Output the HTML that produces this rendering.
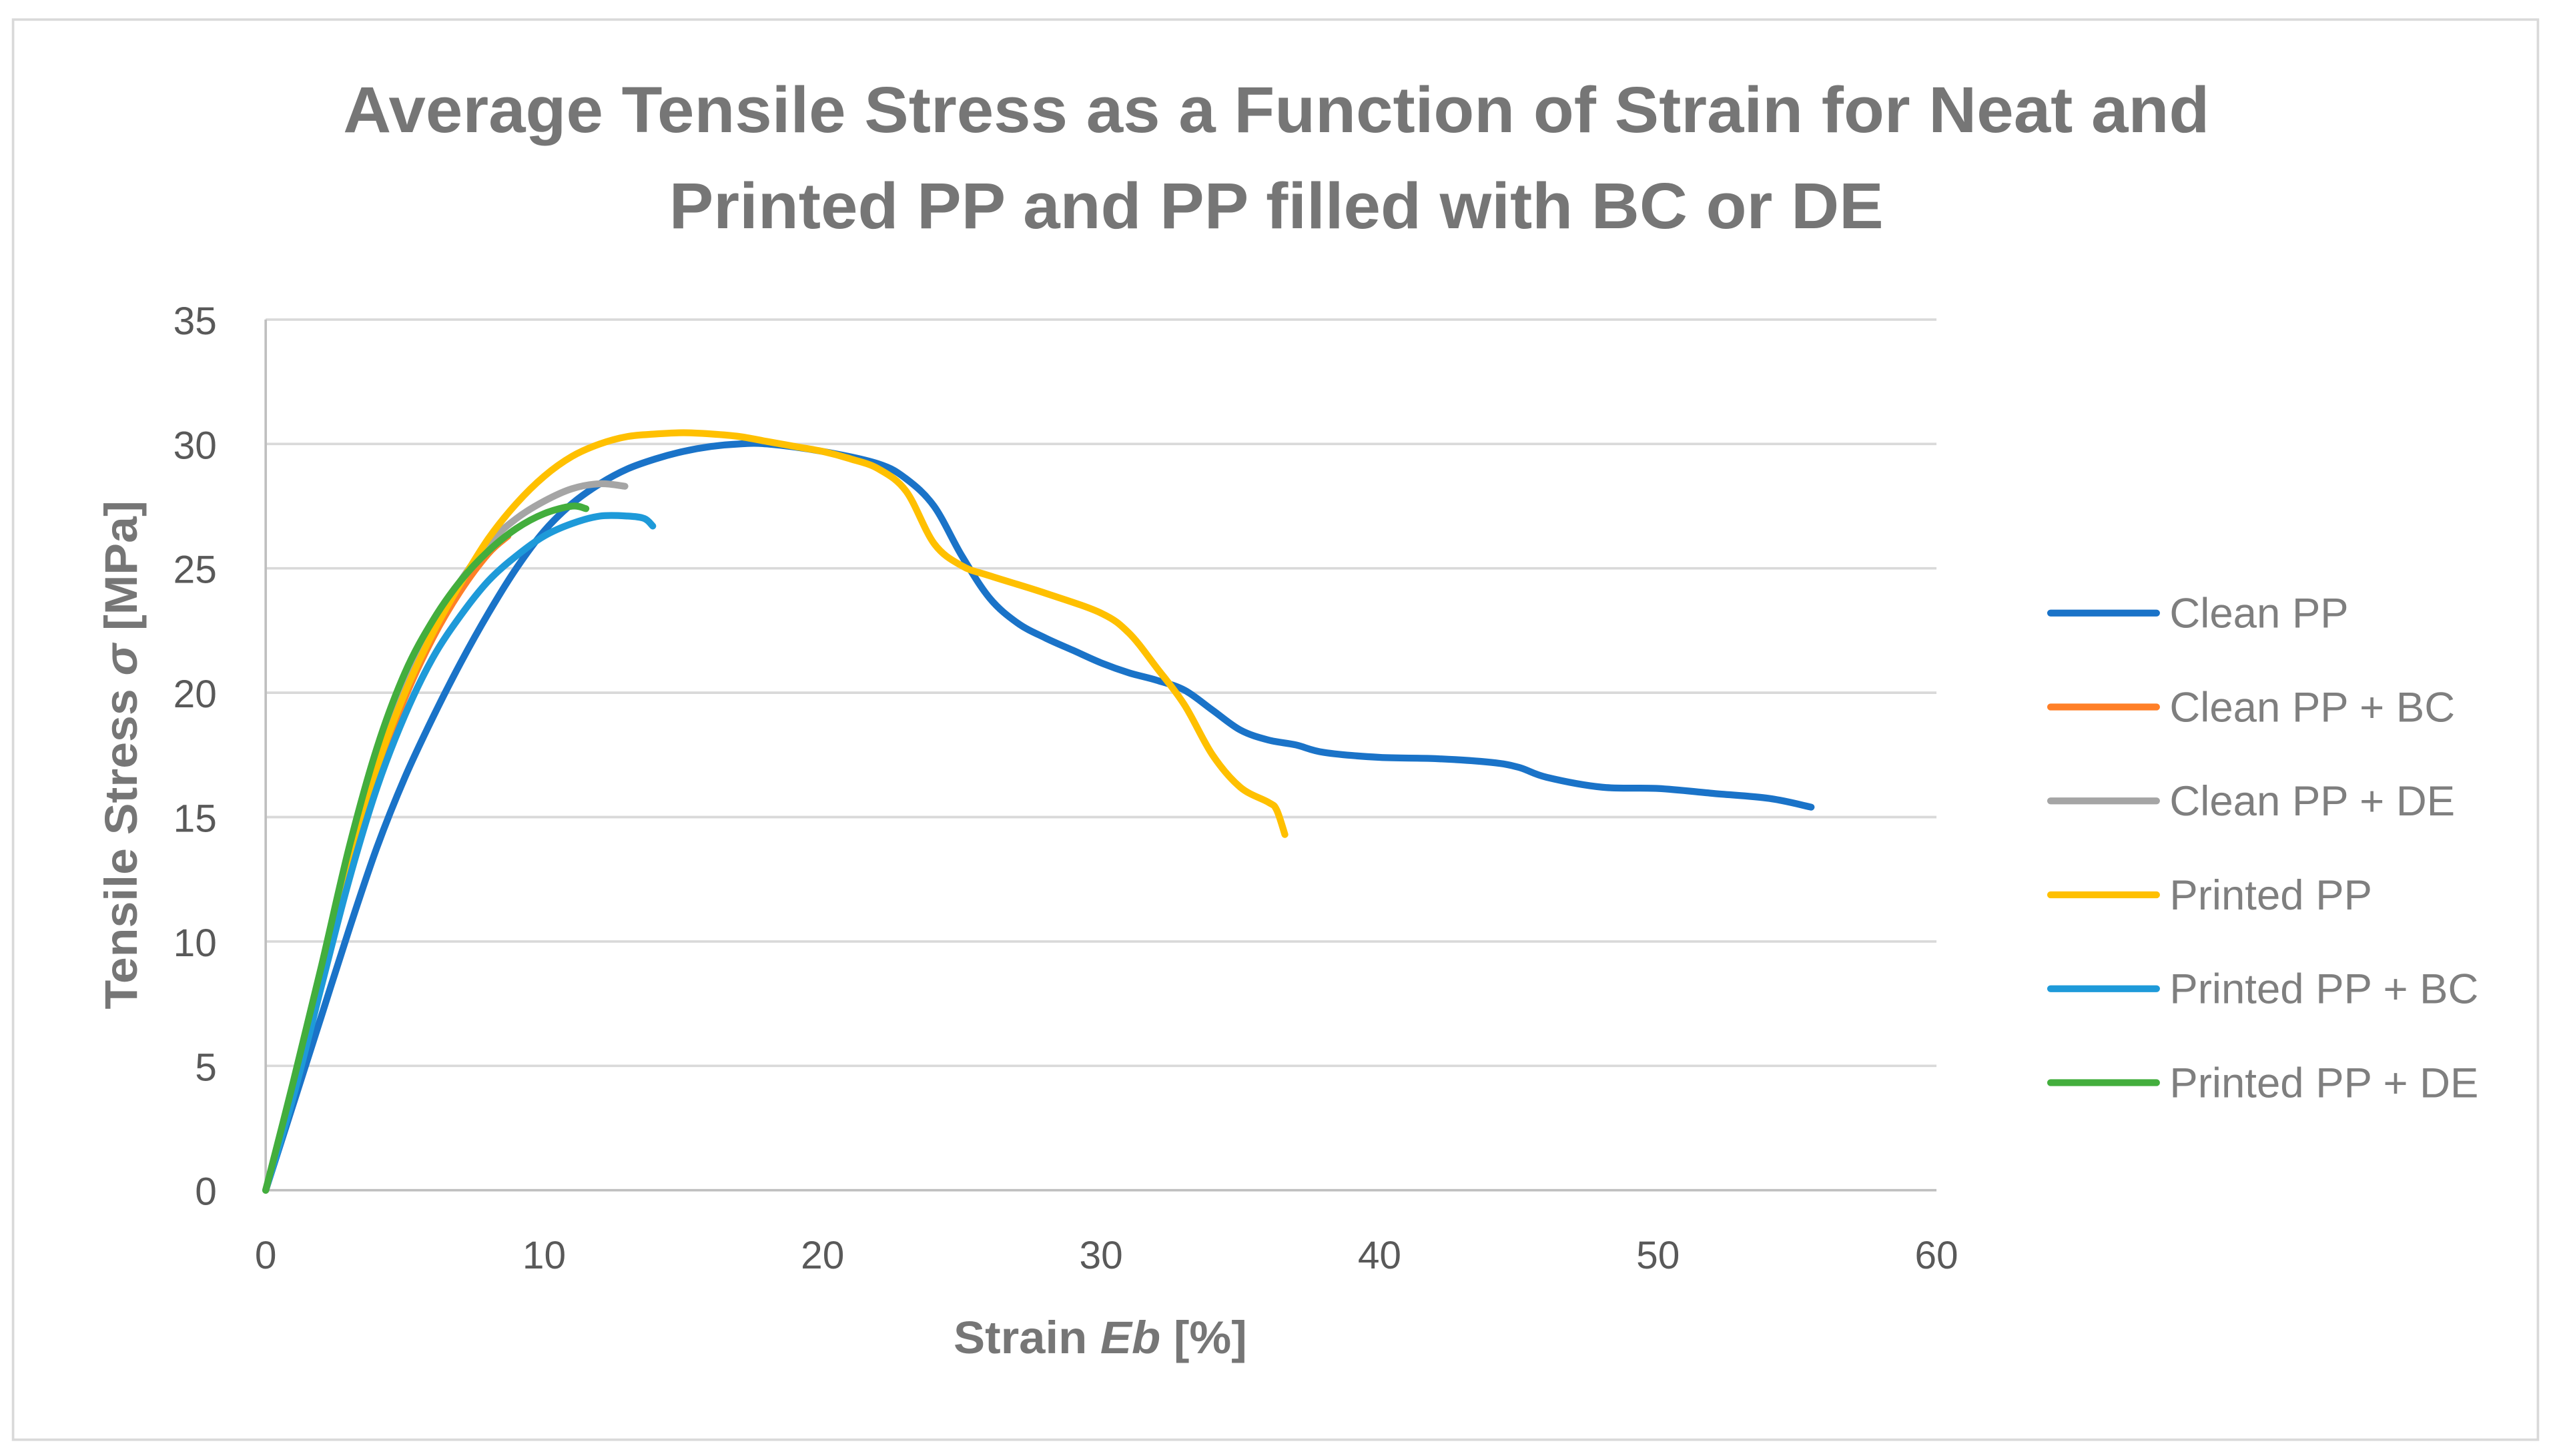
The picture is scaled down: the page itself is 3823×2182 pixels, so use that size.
<!DOCTYPE html>
<html><head><meta charset="utf-8"><style>
html,body{margin:0;padding:0;background:#fff;}
svg{display:block;font-family:"Liberation Sans",sans-serif;}
</style></head><body>
<svg id="chart" width="3823" height="2182" viewBox="0 0 1565 893" preserveAspectRatio="none" xmlns="http://www.w3.org/2000/svg">
<rect x="8" y="12" width="1549" height="871" fill="#fff" stroke="#d9d9d9" stroke-width="1.5"/>
<text x="783" y="81" text-anchor="middle" font-size="40" font-weight="bold" fill="#767676" textLength="1145" lengthAdjust="spacingAndGlyphs">Average Tensile Stress as a Function of Strain for Neat and</text>
<text x="783" y="140" text-anchor="middle" font-size="40" font-weight="bold" fill="#767676" textLength="745" lengthAdjust="spacingAndGlyphs">Printed PP and PP filled with BC or DE</text>
<g id="grid"></g>
<g id="axes"></g>
<g id="series"></g>
<text x="675" y="830" text-anchor="middle" font-size="28" font-weight="bold" fill="#767676" textLength="180" lengthAdjust="spacingAndGlyphs">Strain <tspan font-style="italic">Eb</tspan> [%]</text>
<text transform="translate(84,463) rotate(-90)" text-anchor="middle" font-size="28" font-weight="bold" fill="#767676" textLength="312" lengthAdjust="spacingAndGlyphs">Tensile Stress <tspan font-style="italic">σ</tspan> [MPa]</text>
<g id="legend"></g>
</svg>
<script>
const xTicks=[0,10,20,30,40,50,60];
const yTicks=[0,5,10,15,20,25,30,35];
const seriesNames=["Clean PP","Clean PP + BC","Clean PP + DE","Printed PP","Printed PP + BC","Printed PP + DE"];
const seriesColors=["#1A73C8","#FF7F27","#A5A5A5","#FFC000","#1E9AD9","#43AE3D"];
const cleanX=[0,1,2,3,4,5,6,7,8,9,10,11,12,13,14,15,16,17,18,20,22,23,24,25,26,27,28,29,30,31,32,33,34,35,36,37,38,40,42,44,45,46,48,50,52,54,55.5];
const cleanY=[0,3.5,7,10.5,13.8,16.6,19,21.2,23.2,25,26.5,27.6,28.4,29,29.4,29.7,29.9,30,30,29.7,29.2,28.6,27.5,25.5,23.8,22.8,22.2,21.7,21.2,20.8,20.5,20.1,19.3,18.5,18.1,17.9,17.6,17.4,17.35,17.2,17,16.6,16.2,16.15,15.95,15.75,15.4];
const cleanBcX=[0,1,2,3,4,5,6,7,8,8.7];
const cleanBcY=[0,4,8.5,13,16.8,19.8,22.2,24.1,25.6,26.3];
const cleanDeX=[0,1,2,3,4,5,6,7,8,9,10,11,12,12.9];
const cleanDeY=[0,4.2,8.8,13.5,17.5,20.5,22.7,24.5,26,27,27.7,28.2,28.4,28.3];
const printedX=[0,1,2,3,4,5,6,7,8,9,10,11,12,13,14,15,16,17,18,19,20,21,22,23,24,25,26,28,30,31,32,33,34,35,36,36.3,36.6];
const printedY=[0,4,8.5,13,17,20,22.4,24.4,26.2,27.6,28.7,29.5,30,30.3,30.4,30.45,30.4,30.3,30.1,29.9,29.7,29.4,29,28.1,26,25.1,24.7,24,23.2,22.4,21,19.5,17.5,16.2,15.6,15.3,14.3];
const printedBcX=[0,1,2,3,4,5,6,7,8,9,10,11,12,13,13.6,13.9];
const printedBcY=[0,3.8,8.2,12.5,16.2,19.1,21.4,23.1,24.5,25.5,26.3,26.8,27.1,27.1,27,26.7];
const printedDeX=[0,1,2,3,4,5,6,7,8,9,10,11,11.5];
const printedDeY=[0,4.4,9,13.8,17.8,20.8,22.9,24.5,25.7,26.6,27.2,27.5,27.4];
const seriesX=[cleanX,cleanBcX,cleanDeX,printedX,printedBcX,printedDeX];
const seriesY=[cleanY,cleanBcY,cleanDeY,printedY,printedBcY,printedDeY];

const NS="http://www.w3.org/2000/svg";
const L=163,R=1188,T=196,B=730;
function sx(v){return L+(v-0)/(60-0)*(R-L);}
function sy(v){return B-(v-0)/(35-0)*(B-T);}
function mk(tag,attrs,parent){const e=document.createElementNS(NS,tag);for(const k in attrs)e.setAttribute(k,attrs[k]);parent.appendChild(e);return e;}
const grid=document.getElementById('grid'),axes=document.getElementById('axes'),ser=document.getElementById('series'),leg=document.getElementById('legend');
yTicks.forEach(t=>{
  if(t>0){const g=mk('line',{x1:L,x2:R,y1:sy(t),y2:sy(t),stroke:'#d9d9d9','stroke-width':1.5},grid);
  
  }
  const tx=mk('text',{x:133,y:sy(t)+9,'text-anchor':'end','font-size':24,fill:'#595959'},axes);
  tx.textContent=t;
  
  
});
const xa=mk('line',{x1:L,x2:R,y1:B,y2:B,stroke:'#bfbfbf','stroke-width':1.5},axes);


const ya=mk('line',{x1:L,x2:L,y1:T,y2:B,stroke:'#bfbfbf','stroke-width':1.5},axes);


xTicks.forEach(t=>{
  const tx=mk('text',{x:sx(t),y:778,'text-anchor':'middle','font-size':24,fill:'#595959'},axes);
  tx.textContent=t;
  
  
});
function smoothPath(xs,ys){
  const p=xs.map((x,i)=>[sx(x),sy(ys[i])]);
  let d='M'+p[0][0]+','+p[0][1];
  for(let i=0;i<p.length-1;i++){
    const p0=p[i-1]||p[i],p1=p[i],p2=p[i+1],p3=p[i+2]||p2;
    const c1=[p1[0]+(p2[0]-p0[0])/6,p1[1]+(p2[1]-p0[1])/6];
    const c2=[p2[0]-(p3[0]-p1[0])/6,p2[1]-(p3[1]-p1[1])/6];
    d+=' C'+c1+' '+c2+' '+p2;
  }
  return d;
}
seriesX.forEach((xs,i)=>{
  const pth=mk('path',{d:smoothPath(xs,seriesY[i]),fill:'none',stroke:seriesColors[i],'stroke-width':4.2,'stroke-linecap':'round','stroke-linejoin':'round'},ser);
  
  
  const ly=376+i*57.6;
  const ll=mk('line',{x1:1258,x2:1323,y1:ly,y2:ly,stroke:seriesColors[i],'stroke-width':4.2,'stroke-linecap':'round'},leg);
  
  
  const lt=mk('text',{x:1331,y:ly+9,'font-size':26,fill:'#7f7f7f'},leg);
  lt.textContent=seriesNames[i];
  
  
});
</script>
</body></html>
